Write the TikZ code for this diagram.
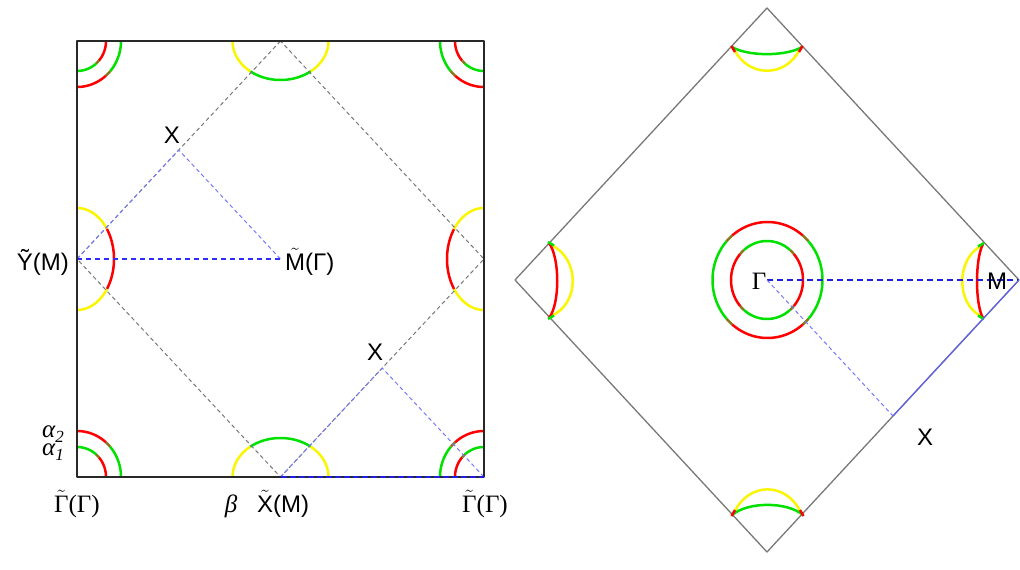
\documentclass[tikz,border=0pt]{standalone}
\usepackage{fontspec}
\setmainfont{Liberation Serif}
\setsansfont{Liberation Sans}
\definecolor{fsred}{RGB}{255,0,0}
\definecolor{fsgreen}{RGB}{0,225,0}
\definecolor{fsyellow}{RGB}{250,245,0}
\definecolor{fsolive}{RGB}{135,120,25}
\definecolor{dgray}{RGB}{120,120,120}
\definecolor{lblue}{RGB}{120,120,255}
\definecolor{hblue}{RGB}{45,45,255}
\definecolor{mblue}{RGB}{30,30,225}
\definecolor{boxc}{RGB}{40,40,40}
\newcommand{\fsarc}[7]{\draw[fs,#1] plot[domain=#6:#7,samples=30,smooth,variable=\t] ({#2+#4*cos(\t)},{#3+#5*sin(\t)});}
\newcommand{\tld}[1]{$\tilde{\mbox{#1}}$}
\newcommand{\subs}[1]{\raisebox{-5pt}{\fontsize{17}{17}\selectfont #1}}
\begin{document}
\begin{tikzpicture}[x=1pt,y=-1pt,line join=round,
  fs/.style={line width=2.5pt},
  gdash/.style={dgray,dash pattern=on 4pt off 3pt,line width=1pt},
  bdash/.style={lblue,dash pattern=on 4pt off 3pt,line width=1pt},
  hdash/.style={hblue,dash pattern=on 5pt off 4pt,line width=1.1pt},
  rdash/.style={mblue,dash pattern=on 6pt off 4pt,line width=1.1pt},
  sanslbl/.style={inner sep=0pt,font=\sffamily\fontsize{24}{28}\selectfont},
  serlbl/.style={inner sep=0pt,font=\rmfamily\fontsize{25}{28}\selectfont},
  itlbl/.style={inner sep=0pt,font=\rmfamily\itshape\fontsize{25}{28}\selectfont}]
\useasboundingbox (0,0) rectangle (1020,570);
% ---------------- left panel coordinates
\coordinate (TL) at (77,41);
\coordinate (TR) at (484,41);
\coordinate (BL) at (77,477);
\coordinate (BR) at (484,477);
\coordinate (Xt) at (280.5,41);
\coordinate (Xb) at (280.5,477);
\coordinate (Yl) at (77,259);
\coordinate (Yr) at (484,259);
\coordinate (Mc) at (280.5,259);
\coordinate (X1) at (178.75,150);
\coordinate (X2) at (382.25,368);
% corner pockets (outer: green toward horizontal edge, red toward vertical edge)
% bottom-left
\fsarc{fsgreen}{77}{477}{44}{46}{0}{-41}
\fsarc{fsolive}{77}{477}{44}{46}{-41}{-49}
\fsarc{fsred}{77}{477}{44}{46}{-49}{-90}
\fsarc{fsred}{77}{477}{29}{30}{0}{-41}
\fsarc{fsolive}{77}{477}{29}{30}{-41}{-49}
\fsarc{fsgreen}{77}{477}{29}{30}{-49}{-90}
% top-left
\fsarc{fsgreen}{77}{41}{44}{46}{0}{41}
\fsarc{fsolive}{77}{41}{44}{46}{41}{49}
\fsarc{fsred}{77}{41}{44}{46}{49}{90}
\fsarc{fsred}{77}{41}{29}{30}{0}{41}
\fsarc{fsolive}{77}{41}{29}{30}{41}{49}
\fsarc{fsgreen}{77}{41}{29}{30}{49}{90}
% top-right
\fsarc{fsgreen}{484}{41}{44}{46}{180}{139}
\fsarc{fsolive}{484}{41}{44}{46}{139}{131}
\fsarc{fsred}{484}{41}{44}{46}{131}{90}
\fsarc{fsred}{484}{41}{29}{30}{180}{139}
\fsarc{fsolive}{484}{41}{29}{30}{139}{131}
\fsarc{fsgreen}{484}{41}{29}{30}{131}{90}
% bottom-right
\fsarc{fsgreen}{484}{477}{44}{46}{180}{221}
\fsarc{fsolive}{484}{477}{44}{46}{221}{229}
\fsarc{fsred}{484}{477}{44}{46}{229}{270}
\fsarc{fsred}{484}{477}{29}{30}{180}{221}
\fsarc{fsolive}{484}{477}{29}{30}{221}{229}
\fsarc{fsgreen}{484}{477}{29}{30}{229}{270}
% edge pockets
\fsarc{fsyellow}{77}{259}{37}{51}{-90}{-36}
\fsarc{fsred}{77}{259}{37}{51}{-36}{36}
\fsarc{fsyellow}{77}{259}{37}{51}{36}{90}
\fsarc{fsyellow}{484}{259}{37}{51}{90}{144}
\fsarc{fsred}{484}{259}{37}{51}{144}{216}
\fsarc{fsyellow}{484}{259}{37}{51}{216}{270}
\fsarc{fsyellow}{280.5}{477}{48}{39}{180}{231}
\fsarc{fsgreen}{280.5}{477}{48}{39}{231}{309}
\fsarc{fsyellow}{280.5}{477}{48}{39}{309}{360}
\fsarc{fsyellow}{280.5}{41}{48}{39}{0}{51}
\fsarc{fsgreen}{280.5}{41}{48}{39}{51}{129}
\fsarc{fsyellow}{280.5}{41}{48}{39}{129}{180}
% dashed lines
\draw[gdash] (Xt) -- (Yl) -- (Xb) -- (Yr) -- cycle;
\draw[bdash] (Yl) -- (X1) -- (Mc);
\draw[hdash] (Yl) -- (Mc);
\draw[bdash] (Xb) -- (X2) -- (BR);
% box
\draw[boxc,line width=1.3pt] (TL) rectangle (BR);
\draw[mblue,dash pattern=on 6pt off 3pt,line width=1.3pt] (Xb) -- (BR);
% labels
\node[sanslbl] (lX1) at (172,135) {X};
\node[sanslbl] (lX2) at (375,352) {X};
\node[sanslbl,anchor=base east] (lY) at (69,270) {Ỹ(M)};
\node[sanslbl,anchor=base west] (lM) at (285,270) {\tld{M}(Γ)};
\node[serlbl,anchor=base] (lG1) at (77,512) {\tld{Γ}(Γ)};
\node[itlbl,anchor=base] (lb) at (231,512) {β};
\node[sanslbl,anchor=base] (lXt) at (283,512) {\tld{X}(M)};
\node[serlbl,anchor=base] (lG2) at (485,512) {\tld{Γ}(Γ)};
\node[itlbl,anchor=base west] (la2) at (42,437) {α\subs{2}};
\node[itlbl,anchor=base west] (la1) at (42,455) {α\subs{1}};
% ---------------- right panel
\coordinate (T) at (767,8);
\coordinate (L) at (515,280);
\coordinate (B) at (767,552);
\coordinate (R) at (1019,280);
\coordinate (G) at (767,280);
\coordinate (XR) at (893,416);
\draw[dgray,line width=1.3pt] (T) -- (L) -- (B) -- (R) -- cycle;
% central pockets
\fsarc{fsred}{767.5}{280}{55}{58}{-130}{-50}
\fsarc{fsolive}{767.5}{280}{55}{58}{-50}{-42}
\fsarc{fsgreen}{767.5}{280}{55}{58}{-42}{42}
\fsarc{fsolive}{767.5}{280}{55}{58}{42}{50}
\fsarc{fsred}{767.5}{280}{55}{58}{50}{130}
\fsarc{fsolive}{767.5}{280}{55}{58}{130}{138}
\fsarc{fsgreen}{767.5}{280}{55}{58}{138}{222}
\fsarc{fsolive}{767.5}{280}{55}{58}{222}{230}
\fsarc{fsgreen}{767}{280}{36}{39}{-130}{-50}
\fsarc{fsolive}{767}{280}{36}{39}{-50}{-42}
\fsarc{fsred}{767}{280}{36}{39}{-42}{42}
\fsarc{fsolive}{767}{280}{36}{39}{42}{50}
\fsarc{fsgreen}{767}{280}{36}{39}{50}{130}
\fsarc{fsolive}{767}{280}{36}{39}{130}{138}
\fsarc{fsred}{767}{280}{36}{39}{138}{222}
\fsarc{fsolive}{767}{280}{36}{39}{222}{230}
% top pocket
\draw[fs,fsyellow] (734,49) .. controls (748,78) and (786,78) .. (800,49);
\draw[fs,fsgreen] (732,47) .. controls (748,56.5) and (786,56.5) .. (802,47);
\draw[fs,fsred] (731.5,46) -- (735,52);
\draw[fs,fsred] (802.5,46) -- (799,52);
% bottom pocket
\draw[fs,fsyellow] (734,513) .. controls (748,481.5) and (787,481.5) .. (801,513);
\draw[fs,fsgreen] (732,515) .. controls (748,501.5) and (787,501.5) .. (803,515);
\draw[fs,fsred] (731.5,516) -- (735,510);
\draw[fs,fsred] (803.5,516) -- (800,510);
% left pocket
\draw[fs,fsyellow] (551,245) .. controls (580,258) and (580,304) .. (551,316);
\draw[fs,fsred] (549,243) .. controls (560,258) and (560,304) .. (549,318);
\draw[fs,fsgreen] (548,242) -- (554,245.5);
\draw[fs,fsgreen] (548,319) -- (554,315.5);
% right pocket
\draw[fs,fsyellow] (981,246) .. controls (956,259) and (956,304) .. (981,316);
\draw[fs,fsred] (983,244) .. controls (975,259) and (975,304) .. (983,318);
\draw[fs,fsgreen] (984,243) -- (978,246.5);
\draw[fs,fsgreen] (984,319) -- (978,315.5);
% path lines
\draw[rdash] (G) -- (R);
\draw[bdash] (G) -- (XR);
\draw[mblue!70,line width=1.2pt] (XR) -- (R);
\node[serlbl] (rG) at (759,281) {Γ};
\node[sanslbl] (rM) at (997,281) {M};
\node[sanslbl] (rX) at (925,437) {X};
\end{tikzpicture}
\end{document}
